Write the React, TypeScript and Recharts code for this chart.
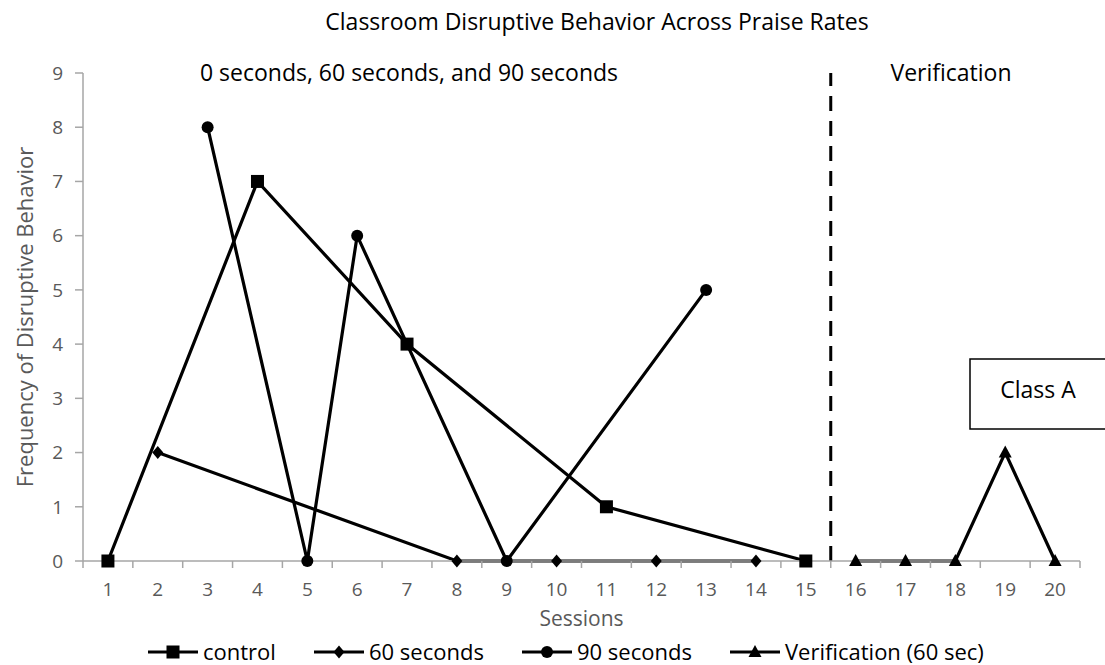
import { LineChart, Line, XAxis, YAxis, ReferenceLine } from 'recharts';

const sessions = [1, 2, 3, 4, 5, 6, 7, 8, 9, 10, 11, 12, 13, 14, 15, 16, 17, 18, 19, 20];
const controlVals = [0, null, null, 7, null, null, 4, null, null, null, 1, null, null, null, 0, null, null, null, null, null];
const sec60Vals = [null, 2, null, null, null, null, null, 0, null, 0, null, 0, null, 0, null, null, null, null, null, null];
const sec90Vals = [null, null, 8, null, 0, 6, null, null, 0, null, null, null, 5, null, null, null, null, null, null, null];
const verifVals = [null, null, null, null, null, null, null, null, null, null, null, null, null, null, null, 0, 0, 0, 2, 0];
const yTicks = [0, 1, 2, 3, 4, 5, 6, 7, 8, 9];
const phaseBreak = 15.5;

const data = sessions.map((s, i) => ({
    session: s,
    control: controlVals[i],
    sec60: sec60Vals[i],
    sec90: sec90Vals[i],
    verif: verifVals[i],
}));

const FONT = '"Open Sans", sans-serif';
const AXIS_GRAY = '#a6a6a6';
const TEXT_GRAY = '#595959';

// plot box
const PLOT_LEFT = 83;
const PLOT_RIGHT = 1080;
const PLOT_BOTTOM = 561;
const HALF_BAND = (PLOT_RIGHT - PLOT_LEFT) / sessions.length / 2;

type Shape = 'square' | 'diamond' | 'circle' | 'triangle';

const marker = (shape: Shape, cx: number, cy: number, key?: any) => {
    if (shape === 'square') return <rect key={key} x={cx - 6.5} y={cy - 6.5} width={13} height={13} fill="#000" />;
    if (shape === 'diamond') return <polygon key={key} points={`${cx},${cy - 6.5} ${cx + 5.5},${cy} ${cx},${cy + 6.5} ${cx - 5.5},${cy}`} fill="#000" />;
    if (shape === 'circle') return <circle key={key} cx={cx} cy={cy} r={6} fill="#000" />;
    return <polygon key={key} points={`${cx},${cy - 7} ${cx + 6.5},${cy + 5} ${cx - 6.5},${cy + 5}`} fill="#000" />;
};

const dotFor = (shape: Shape) => (props: any) => {
    const { cx, cy, index, value } = props;
    if (value == null || cy == null || isNaN(cy)) return <g key={`e-${shape}-${index}`} />;
    return marker(shape, cx, cy, `${shape}-${index}`);
};

// category-style ticks: marks sit between sessions, labels on the session
const SessionTick = (props: any) => {
    const { x, payload, index } = props;
    const last = index === sessions.length - 1;
    return (
        <g>
            <line x1={x - HALF_BAND} y1={PLOT_BOTTOM} x2={x - HALF_BAND} y2={PLOT_BOTTOM + 7} stroke={AXIS_GRAY} strokeWidth={1.5} />
            {last && <line x1={x + HALF_BAND} y1={PLOT_BOTTOM} x2={x + HALF_BAND} y2={PLOT_BOTTOM + 7} stroke={AXIS_GRAY} strokeWidth={1.5} />}
            <text x={x} y={PLOT_BOTTOM + 35} textAnchor="middle" fill={TEXT_GRAY} fontSize={19} fontFamily={FONT}>
                {payload.value}
            </text>
        </g>
    );
};

const legendItems: { label: string; shape: Shape; x: number }[] = [
    { label: 'control', shape: 'square', x: 148 },
    { label: '60 seconds', shape: 'diamond', x: 314 },
    { label: '90 seconds', shape: 'circle', x: 522 },
    { label: 'Verification (60 sec)', shape: 'triangle', x: 730 },
];

export default function App() {
    return (
        <div style={{ position: 'relative', width: 1105, height: 665, background: '#fff', fontFamily: FONT }}>
            <style>{`body{margin:0}`}</style>
            <LineChart width={1105} height={665} data={data} margin={{ top: 73, right: 25, bottom: 39, left: 0 }}>
                <XAxis
                    dataKey="session"
                    type="number"
                    domain={[0.5, 20.5]}
                    ticks={sessions}
                    tick={<SessionTick />}
                    tickLine={false}
                    axisLine={{ stroke: AXIS_GRAY, strokeWidth: 1.5 }}
                    height={65}
                    label={{ value: 'Sessions', position: 'insideBottom', offset: 0, fill: TEXT_GRAY, fontSize: 21, fontFamily: FONT }}
                />
                <YAxis
                    type="number"
                    domain={[0, 9]}
                    ticks={yTicks}
                    width={83}
                    tickSize={8}
                    tickMargin={12}
                    tickLine={{ stroke: AXIS_GRAY, strokeWidth: 1.5 }}
                    axisLine={{ stroke: AXIS_GRAY, strokeWidth: 1.5 }}
                    tick={{ fill: TEXT_GRAY, fontSize: 19, fontFamily: FONT }}
                    label={{
                        value: 'Frequency of Disruptive Behavior',
                        angle: -90,
                        position: 'insideLeft',
                        offset: 25,
                        fill: TEXT_GRAY,
                        fontSize: 22,
                        fontFamily: FONT,
                        style: { textAnchor: 'middle' },
                    }}
                />
                <ReferenceLine x={phaseBreak} stroke="#000" strokeWidth={3} strokeDasharray="15 10" />
                <Line dataKey="control" stroke="#000" strokeWidth={3.2} connectNulls dot={dotFor('square')} isAnimationActive={false} />
                <Line dataKey="sec60" stroke="#000" strokeWidth={3.2} connectNulls dot={dotFor('diamond')} isAnimationActive={false} />
                <Line dataKey="sec90" stroke="#000" strokeWidth={3.2} connectNulls dot={dotFor('circle')} isAnimationActive={false} />
                <Line dataKey="verif" stroke="#000" strokeWidth={3.2} connectNulls dot={dotFor('triangle')} isAnimationActive={false} />
            </LineChart>
            <svg width={1105} height={665} style={{ position: 'absolute', left: 0, top: 0, pointerEvents: 'none' }} fontFamily={FONT}>
                <text x={597} y={30} textAnchor="middle" fontSize={23} fill="#000">
                    Classroom Disruptive Behavior Across Praise Rates
                </text>
                <text x={409} y={81} textAnchor="middle" fontSize={23} fill="#000">
                    0 seconds, 60 seconds, and 90 seconds
                </text>
                <text x={951} y={81} textAnchor="middle" fontSize={23} fill="#000">
                    Verification
                </text>
                <rect x={970} y={359} width={140} height={70} fill="#fff" stroke="#000" strokeWidth={1.5} />
                <text x={1038} y={398} textAnchor="middle" fontSize={23} fill="#000">
                    Class A
                </text>
                {legendItems.map((it) => (
                    <g key={it.label}>
                        <line x1={it.x} y1={652} x2={it.x + 50} y2={652} stroke="#000" strokeWidth={3} />
                        {marker(it.shape, it.x + 25, 652)}
                        <text x={it.x + 55} y={660} fontSize={22} fill="#000">
                            {it.label}
                        </text>
                    </g>
                ))}
            </svg>
        </div>
    );
}
